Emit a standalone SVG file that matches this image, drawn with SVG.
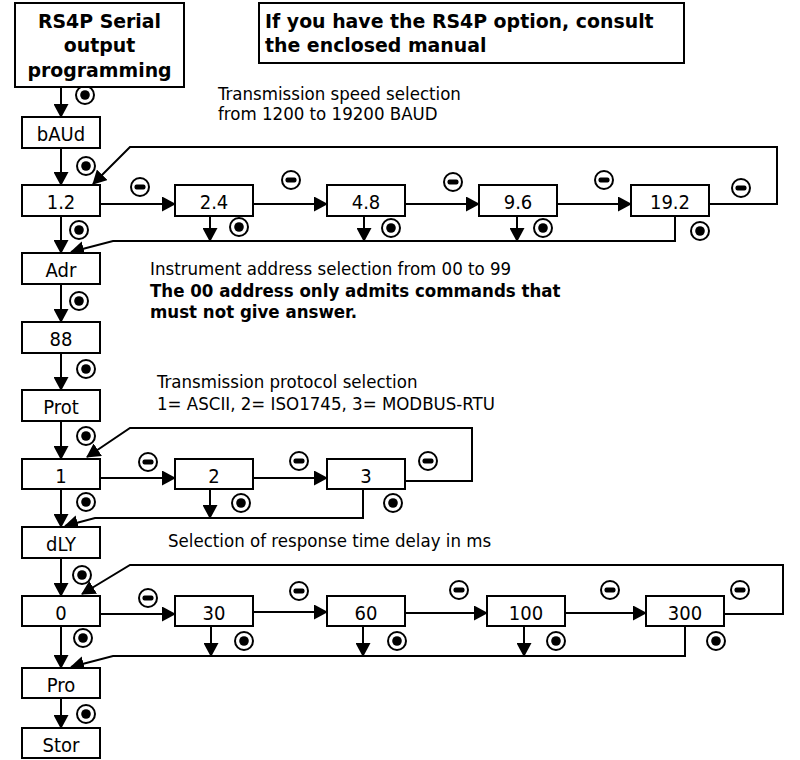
<svg xmlns="http://www.w3.org/2000/svg" xmlns:xlink="http://www.w3.org/1999/xlink" width="800" height="760" viewBox="0 0 800 760">
<style>
  .box{fill:#fff;stroke:#000;stroke-width:2}
  .lbl{font-family:'DejaVu Sans Condensed','Liberation Sans',sans-serif;font-size:20px;fill:#000;text-anchor:middle}
  .txt{font-family:'DejaVu Sans Condensed','Liberation Sans',sans-serif;font-size:18.5px;fill:#000}
  .txtb{font-family:'DejaVu Sans Condensed','Liberation Sans',sans-serif;font-size:18.5px;font-weight:bold;fill:#000}
  .hb{font-family:'DejaVu Sans',sans-serif;font-size:18.9px;font-weight:bold;fill:#000}
  .ln{fill:none;stroke:#000;stroke-width:2}
  .arr{fill:none;stroke:#000;stroke-width:2;marker-end:url(#ah)}
</style>
<defs>
  <marker id="ah" markerUnits="userSpaceOnUse" viewBox="0 0 14 15" markerWidth="14" markerHeight="15" refX="13" refY="7.5" orient="auto">
    <path d="M0,0 L14,7.5 L0,15 z" fill="#000"/>
  </marker>
  <g id="enter"><circle r="9" fill="#fff" stroke="#000" stroke-width="2"/><circle r="4.8" fill="#000"/></g>
  <g id="minus"><circle r="9" fill="#fff" stroke="#000" stroke-width="2"/><rect x="-5.5" y="-2.5" width="11" height="5" rx="2" fill="#000"/></g>
</defs>
<rect width="800" height="760" fill="#fff"/>

<g id="connectors">
  <!-- main column -->
  <line class="arr" x1="61" y1="87" x2="61" y2="117"/>
  <line class="arr" x1="61" y1="148" x2="61" y2="185"/>
  <line class="arr" x1="61" y1="216" x2="61" y2="253"/>
  <line class="arr" x1="61" y1="284" x2="61" y2="322"/>
  <line class="arr" x1="61" y1="353" x2="61" y2="390"/>
  <line class="arr" x1="61" y1="421" x2="61" y2="459"/>
  <line class="arr" x1="61" y1="489" x2="61" y2="527"/>
  <line class="arr" x1="61" y1="558" x2="61" y2="596"/>
  <line class="arr" x1="61" y1="626" x2="61" y2="668"/>
  <line class="arr" x1="61" y1="698" x2="61" y2="728"/>
  <!-- speed row -->
  <line class="arr" x1="100" y1="204" x2="175" y2="204"/>
  <line class="arr" x1="253" y1="204" x2="327" y2="204"/>
  <line class="arr" x1="405" y1="204" x2="479" y2="204"/>
  <line class="arr" x1="557" y1="204" x2="631" y2="204"/>
  <polyline class="arr" points="709,204 777,204 777,147 130,147 93,184"/>
  <line class="arr" x1="210" y1="216" x2="210" y2="241"/>
  <line class="arr" x1="364" y1="216" x2="364" y2="241"/>
  <line class="arr" x1="517" y1="216" x2="517" y2="241"/>
  <polyline class="arr" points="675,216 675,241 113,241 71,252"/>
  <!-- protocol row -->
  <line class="arr" x1="100" y1="478" x2="175" y2="478"/>
  <line class="arr" x1="253" y1="478" x2="327" y2="478"/>
  <polyline class="arr" points="405,481 472,481 472,428 130,428 87,457"/>
  <line class="arr" x1="210" y1="489" x2="210" y2="518"/>
  <polyline class="arr" points="363,489 363,518 95,518 65,526"/>
  <!-- delay row -->
  <line class="arr" x1="100" y1="614" x2="175" y2="614"/>
  <line class="arr" x1="253" y1="612" x2="327" y2="612"/>
  <line class="arr" x1="405" y1="613" x2="487" y2="613"/>
  <line class="arr" x1="565" y1="613" x2="646" y2="613"/>
  <polyline class="arr" points="724,614 783,614 783,565 130,565 82,594"/>
  <line class="arr" x1="211" y1="626" x2="211" y2="656"/>
  <line class="arr" x1="363" y1="626" x2="363" y2="656"/>
  <line class="arr" x1="524" y1="626" x2="524" y2="656"/>
  <polyline class="arr" points="685,626 685,656 113,656 71,667"/>

  <!-- key symbols -->
  <use xlink:href="#enter" x="85" y="95"/>
  <use xlink:href="#enter" x="86" y="166"/>
  <use xlink:href="#enter" x="79" y="230"/>
  <use xlink:href="#enter" x="239" y="227"/>
  <use xlink:href="#enter" x="391" y="228"/>
  <use xlink:href="#enter" x="543" y="228"/>
  <use xlink:href="#enter" x="700" y="231"/>
  <use xlink:href="#minus" x="140" y="187"/>
  <use xlink:href="#minus" x="291" y="180"/>
  <use xlink:href="#minus" x="453" y="182"/>
  <use xlink:href="#minus" x="604" y="180"/>
  <use xlink:href="#minus" x="741" y="188"/>
  <use xlink:href="#enter" x="79" y="301"/>
  <use xlink:href="#enter" x="86" y="369"/>
  <use xlink:href="#enter" x="86" y="436"/>
  <use xlink:href="#minus" x="148" y="462"/>
  <use xlink:href="#minus" x="299" y="461"/>
  <use xlink:href="#minus" x="428" y="461"/>
  <use xlink:href="#enter" x="86" y="502"/>
  <use xlink:href="#enter" x="241" y="503"/>
  <use xlink:href="#enter" x="393" y="503"/>
  <use xlink:href="#enter" x="82" y="575"/>
  <use xlink:href="#minus" x="148" y="598"/>
  <use xlink:href="#minus" x="299" y="591"/>
  <use xlink:href="#minus" x="459" y="590"/>
  <use xlink:href="#minus" x="610" y="590"/>
  <use xlink:href="#minus" x="740" y="590"/>
  <use xlink:href="#enter" x="83" y="638"/>
  <use xlink:href="#enter" x="244" y="641"/>
  <use xlink:href="#enter" x="397" y="641"/>
  <use xlink:href="#enter" x="556" y="641"/>
  <use xlink:href="#enter" x="716" y="641"/>
  <use xlink:href="#enter" x="86" y="714"/>
</g>

<g id="title">
  <rect class="box" x="15" y="3" width="169" height="84"/>
  <text class="hb" x="99.5" y="28" text-anchor="middle">RS4P Serial</text>
  <text class="hb" x="99.5" y="52" text-anchor="middle">output</text>
  <text class="hb" x="99.5" y="77" text-anchor="middle">programming</text>
</g>
<g id="note">
  <rect class="box" x="259" y="3" width="425" height="60"/>
  <text class="hb" x="265" y="28">If you have the RS4P option, consult</text>
  <text class="hb" x="265" y="52">the enclosed manual</text>
</g>
<g id="speed-text">
  <text class="txt" x="218" y="100">Transmission speed selection</text>
  <text class="txt" x="218" y="120">from 1200 to 19200 BAUD</text>
</g>
<g id="addr-text">
  <text class="txt" x="150" y="275">Instrument address selection from 00 to 99</text>
  <text class="txtb" x="150" y="297">The 00 address only admits commands that</text>
  <text class="txtb" x="150" y="318">must not give answer.</text>
</g>
<g id="prot-text">
  <text class="txt" x="157" y="388">Transmission protocol selection</text>
  <text class="txt" x="157" y="410">1= ASCII, 2= ISO1745, 3= MODBUS-RTU</text>
</g>
<g id="dly-text">
  <text class="txt" x="168" y="547">Selection of response time delay in ms</text>
</g>

<g id="n-bAUd"><rect class="box" x="22" y="117" width="78" height="31"/><text class="lbl" x="61" y="141">bAUd</text></g>
<g id="n-1-2"><rect class="box" x="22" y="185" width="78" height="31"/><text class="lbl" x="61" y="209">1.2</text></g>
<g id="n-2-4"><rect class="box" x="175" y="185" width="78" height="31"/><text class="lbl" x="214" y="209">2.4</text></g>
<g id="n-4-8"><rect class="box" x="327" y="185" width="78" height="31"/><text class="lbl" x="366" y="209">4.8</text></g>
<g id="n-9-6"><rect class="box" x="479" y="185" width="78" height="31"/><text class="lbl" x="518" y="209">9.6</text></g>
<g id="n-19-2"><rect class="box" x="631" y="185" width="78" height="31"/><text class="lbl" x="670" y="209">19.2</text></g>
<g id="n-Adr"><rect class="box" x="22" y="253" width="78" height="31"/><text class="lbl" x="61" y="277">Adr</text></g>
<g id="n-88"><rect class="box" x="22" y="322" width="78" height="31"/><text class="lbl" x="61" y="346">88</text></g>
<g id="n-Prot"><rect class="box" x="22" y="390" width="78" height="31"/><text class="lbl" x="61" y="414">Prot</text></g>
<g id="n-p1"><rect class="box" x="22" y="459" width="78" height="30"/><text class="lbl" x="61" y="483">1</text></g>
<g id="n-p2"><rect class="box" x="175" y="459" width="78" height="30"/><text class="lbl" x="214" y="483">2</text></g>
<g id="n-p3"><rect class="box" x="327" y="459" width="78" height="30"/><text class="lbl" x="366" y="483">3</text></g>
<g id="n-dLY"><rect class="box" x="22" y="527" width="78" height="31"/><text class="lbl" x="61" y="551">dLY</text></g>
<g id="n-d0"><rect class="box" x="22" y="596" width="78" height="30"/><text class="lbl" x="61" y="620">0</text></g>
<g id="n-d30"><rect class="box" x="175" y="596" width="78" height="30"/><text class="lbl" x="214" y="620">30</text></g>
<g id="n-d60"><rect class="box" x="327" y="596" width="78" height="30"/><text class="lbl" x="366" y="620">60</text></g>
<g id="n-d100"><rect class="box" x="487" y="596" width="78" height="30"/><text class="lbl" x="526" y="620">100</text></g>
<g id="n-d300"><rect class="box" x="646" y="596" width="78" height="30"/><text class="lbl" x="685" y="620">300</text></g>
<g id="n-Pro"><rect class="box" x="22" y="668" width="78" height="30"/><text class="lbl" x="61" y="692">Pro</text></g>
<g id="n-Stor"><rect class="box" x="22" y="728" width="78" height="30"/><text class="lbl" x="61" y="752">Stor</text></g>
</svg>
